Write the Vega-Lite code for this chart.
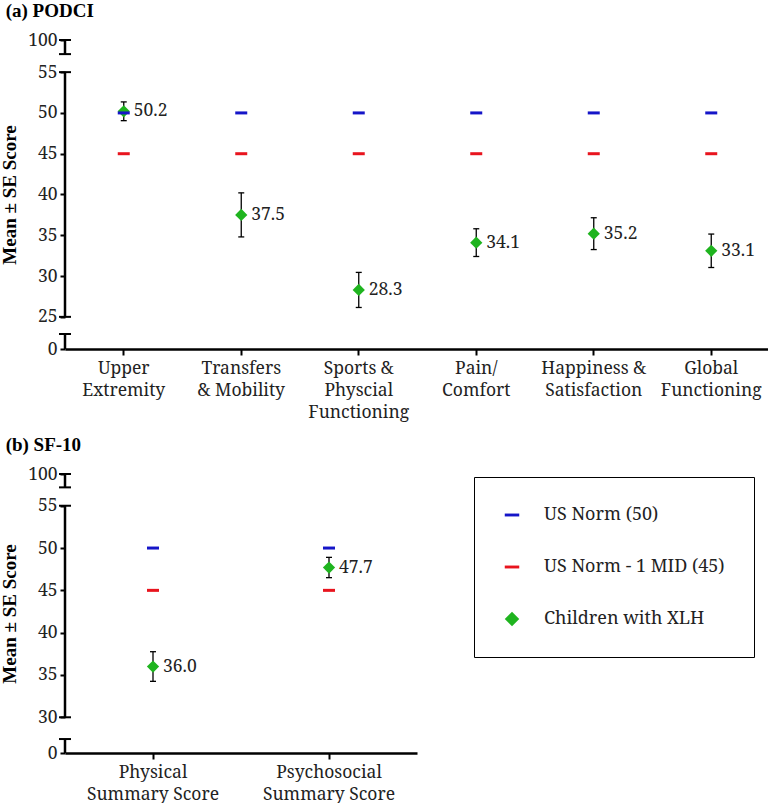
{
  "$schema": "https://vega.github.io/schema/vega-lite/v6.json",
  "padding": {"left": 0, "top": 2, "right": 0, "bottom": 0},
  "background": "white",
  "config": {"view": {"stroke": null}, "tick": {"opacity": 1}},
  "datasets": {
    "podci": [
      {"cat": "Upper Extremity", "series": "Children with XLH", "value": 50.2, "lo": 49.05, "hi": 51.35},
      {"cat": "Transfers & Mobility", "series": "Children with XLH", "value": 37.5, "lo": 34.8, "hi": 40.2},
      {"cat": "Sports & Physcial Functioning", "series": "Children with XLH", "value": 28.3, "lo": 26.15, "hi": 30.45},
      {"cat": "Pain/Comfort", "series": "Children with XLH", "value": 34.1, "lo": 32.4, "hi": 35.8},
      {"cat": "Happiness & Satisfaction", "series": "Children with XLH", "value": 35.2, "lo": 33.25, "hi": 37.15},
      {"cat": "Global Functioning", "series": "Children with XLH", "value": 33.1, "lo": 31.05, "hi": 35.15},
      {"cat": "Upper Extremity", "series": "US Norm (50)", "value": 50},
      {"cat": "Transfers & Mobility", "series": "US Norm (50)", "value": 50},
      {"cat": "Sports & Physcial Functioning", "series": "US Norm (50)", "value": 50},
      {"cat": "Pain/Comfort", "series": "US Norm (50)", "value": 50},
      {"cat": "Happiness & Satisfaction", "series": "US Norm (50)", "value": 50},
      {"cat": "Global Functioning", "series": "US Norm (50)", "value": 50},
      {"cat": "Upper Extremity", "series": "US Norm - 1 MID (45)", "value": 45},
      {"cat": "Transfers & Mobility", "series": "US Norm - 1 MID (45)", "value": 45},
      {"cat": "Sports & Physcial Functioning", "series": "US Norm - 1 MID (45)", "value": 45},
      {"cat": "Pain/Comfort", "series": "US Norm - 1 MID (45)", "value": 45},
      {"cat": "Happiness & Satisfaction", "series": "US Norm - 1 MID (45)", "value": 45},
      {"cat": "Global Functioning", "series": "US Norm - 1 MID (45)", "value": 45}
    ],
    "sf10": [
      {"cat": "Physical Summary Score", "series": "Children with XLH", "value": 36.0, "lo": 34.25, "hi": 37.75},
      {"cat": "Psychosocial Summary Score", "series": "Children with XLH", "value": 47.7, "lo": 46.5, "hi": 48.9},
      {"cat": "Physical Summary Score", "series": "US Norm (50)", "value": 50},
      {"cat": "Psychosocial Summary Score", "series": "US Norm (50)", "value": 50},
      {"cat": "Physical Summary Score", "series": "US Norm - 1 MID (45)", "value": 45},
      {"cat": "Psychosocial Summary Score", "series": "US Norm - 1 MID (45)", "value": 45}
    ]
  },
  "vconcat": [
    {
      "width": 705,
      "height": 309,
      "title": {"text": "(a) PODCI", "anchor": "start", "frame": "bounds", "font": "Liberation Serif", "fontSize": 19, "fontWeight": "bold", "color": "black", "offset": 10, "dx": 5},
      "data": {"name": "podci"},
      "resolve": {"scale": {"x": "independent"}, "axis": {"x": "independent"}},
      "encoding": {
        "y": {
          "field": "value", "type": "quantitative",
          "scale": {"domain": [21.06, 58.94], "nice": false, "zero": false},
          "axis": {
            "title": "Mean ± SE Score", "titleFont": "Liberation Serif", "titleFontSize": 19, "titleFontWeight": "bold", "titleColor": "black", "titlePadding": 8,
            "values": [21.06, 25, 30, 35, 40, 45, 50, 55, 58.94],
            "labelExpr": "datum.value < 24 ? '0' : datum.value > 56 ? '100' : datum.label",
            "domain": false, "grid": false, "tickSize": 5, "tickWidth": 2, "tickColor": "black",
            "labelFont": "Noto Serif", "labelFontSize": 17.5, "labelColor": "#222", "labelPadding": 3
          }
        }
      },
      "layer": [
        {
          "transform": [{"filter": "datum.cat == 'Upper Extremity' && datum.series == 'US Norm (50)'"}],
          "encoding": {"x": {"datum": 0, "type": "quantitative", "scale": {"domain": [0, 1]}, "axis": null}},
          "layer": [
            {"mark": {"type": "rule", "orient": "vertical", "color": "black", "strokeWidth": 2.5}, "encoding": {"y": {"datum": 25}, "y2": {"datum": 55}}},
            {"mark": {"type": "rule", "orient": "vertical", "color": "black", "strokeWidth": 2.5}, "encoding": {"y": {"datum": 57.21}, "y2": {"datum": 58.94}}},
            {"mark": {"type": "rule", "orient": "vertical", "color": "black", "strokeWidth": 2.5}, "encoding": {"y": {"datum": 21.06}, "y2": {"datum": 22.9}}},
            {"mark": {"type": "tick", "orient": "horizontal", "color": "black", "size": 12, "thickness": 2, "opacity": 1}, "encoding": {"y": {"datum": 58.94}}},
            {"mark": {"type": "tick", "orient": "horizontal", "color": "black", "size": 12, "thickness": 2, "opacity": 1}, "encoding": {"y": {"datum": 57.21}}},
            {"mark": {"type": "tick", "orient": "horizontal", "color": "black", "size": 12, "thickness": 2, "opacity": 1}, "encoding": {"y": {"datum": 55}}},
            {"mark": {"type": "tick", "orient": "horizontal", "color": "black", "size": 12, "thickness": 2, "opacity": 1}, "encoding": {"y": {"datum": 22.9}}},
            {"mark": {"type": "tick", "orient": "horizontal", "color": "black", "size": 12, "thickness": 2, "opacity": 1}, "encoding": {"y": {"datum": 25}}}
          ]
        },
        {
          "encoding": {
            "x": {
              "field": "cat", "type": "nominal", "sort": null,
              "scale": {"domain": ["Upper Extremity", "Transfers & Mobility", "Sports & Physcial Functioning", "Pain/Comfort", "Happiness & Satisfaction", "Global Functioning"], "paddingInner": 0, "paddingOuter": 0},
              "axis": {
                "title": null, "labelAngle": 0, "labelFont": "Noto Serif", "labelFontSize": 17.5, "labelColor": "#222", "labelLineHeight": 22, "labelPadding": 4,
                "tickSize": 6, "tickWidth": 2, "tickColor": "black", "domainColor": "black", "domainWidth": 2.5,
                "labelExpr": "datum.value == 'Upper Extremity' ? ['Upper','Extremity'] : datum.value == 'Transfers & Mobility' ? ['Transfers','& Mobility'] : datum.value == 'Sports & Physcial Functioning' ? ['Sports &','Physcial','Functioning'] : datum.value == 'Pain/Comfort' ? ['Pain/','Comfort'] : datum.value == 'Happiness & Satisfaction' ? ['Happiness &','Satisfaction'] : ['Global','Functioning']"
              }
            }
          },
          "layer": [
            {"transform": [{"filter": "datum.series == 'Children with XLH'"}], "mark": {"type": "rule", "color": "black", "strokeWidth": 1.3},
             "encoding": {"y": {"field": "lo", "type": "quantitative"}, "y2": {"field": "hi"}}},
            {"transform": [{"filter": "datum.series == 'Children with XLH'"}], "mark": {"type": "tick", "color": "black", "size": 6, "thickness": 1.3, "orient": "horizontal", "opacity": 1},
             "encoding": {"y": {"field": "lo", "type": "quantitative"}}},
            {"transform": [{"filter": "datum.series == 'Children with XLH'"}], "mark": {"type": "tick", "color": "black", "size": 6, "thickness": 1.3, "orient": "horizontal", "opacity": 1},
             "encoding": {"y": {"field": "hi", "type": "quantitative"}}},
            {"transform": [{"filter": "datum.series == 'Children with XLH'"}], "mark": {"type": "point", "filled": true, "size": 150, "opacity": 1},
             "encoding": {
               "color": {"field": "series", "type": "nominal", "scale": {"domain": ["US Norm (50)", "US Norm - 1 MID (45)", "Children with XLH"], "range": ["#1515c8", "#e8141e", "#1fb41f"]},
                 "legend": {"title": null, "orient": "none", "legendX": 409, "legendY": 437, "direction": "vertical", "padding": 29, "rowPadding": 34, "labelOffset": 23, "labelFont": "Noto Serif", "labelFontSize": 18, "labelColor": "#222", "labelLimit": 400, "strokeColor": "black", "symbolSize": 210}},
               "shape": {"field": "series", "type": "nominal", "scale": {"domain": ["US Norm (50)", "US Norm - 1 MID (45)", "Children with XLH"], "range": ["M-1,-0.2L1,-0.2L1,0.2L-1,0.2Z", "M-1,-0.2L1,-0.2L1,0.2L-1,0.2Z", "diamond"]},
                 "legend": {"title": null, "orient": "none", "legendX": 409, "legendY": 437, "direction": "vertical", "padding": 29, "rowPadding": 34, "labelOffset": 23, "labelFont": "Noto Serif", "labelFontSize": 18, "labelColor": "#222", "labelLimit": 400, "strokeColor": "black", "symbolSize": 210}}
             }},
            {"transform": [{"filter": "datum.series != 'Children with XLH'"}], "mark": {"type": "tick", "size": 12, "thickness": 3, "orient": "horizontal", "opacity": 1},
             "encoding": {"color": {"field": "series", "type": "nominal"}}},
            {"transform": [{"filter": "datum.series == 'Children with XLH'"}], "mark": {"type": "text", "align": "left", "baseline": "middle", "dx": 10, "font": "Noto Serif", "fontSize": 17.5, "color": "#222"},
             "encoding": {"text": {"field": "value", "type": "quantitative", "format": ".1f"}}}
          ]
        }
      ]
    },
    {
      "width": 352,
      "height": 279,
      "title": {"text": "(b) SF-10", "anchor": "start", "frame": "bounds", "font": "Liberation Serif", "fontSize": 19, "fontWeight": "bold", "color": "black", "offset": 10, "dx": 5},
      "data": {"name": "sf10"},
      "resolve": {"scale": {"x": "independent"}, "axis": {"x": "independent"}},
      "encoding": {
        "y": {
          "field": "value", "type": "quantitative",
          "scale": {"domain": [25.78, 58.75], "nice": false, "zero": false},
          "axis": {
            "title": "Mean ± SE Score", "titleFont": "Liberation Serif", "titleFontSize": 19, "titleFontWeight": "bold", "titleColor": "black", "titlePadding": 8,
            "values": [25.78, 30, 35, 40, 45, 50, 55, 58.75],
            "labelExpr": "datum.value < 28 ? '0' : datum.value > 56 ? '100' : datum.label",
            "domain": false, "grid": false, "tickSize": 5, "tickWidth": 2, "tickColor": "black",
            "labelFont": "Noto Serif", "labelFontSize": 17.5, "labelColor": "#222", "labelPadding": 3
          }
        }
      },
      "layer": [
        {
          "transform": [{"filter": "datum.cat == 'Physical Summary Score' && datum.series == 'US Norm (50)'"}],
          "encoding": {"x": {"datum": 0, "type": "quantitative", "scale": {"domain": [0, 1]}, "axis": null}},
          "layer": [
            {"mark": {"type": "rule", "orient": "vertical", "color": "black", "strokeWidth": 2.5}, "encoding": {"y": {"datum": 30}, "y2": {"datum": 55}}},
            {"mark": {"type": "rule", "orient": "vertical", "color": "black", "strokeWidth": 2.5}, "encoding": {"y": {"datum": 57.17}, "y2": {"datum": 58.75}}},
            {"mark": {"type": "rule", "orient": "vertical", "color": "black", "strokeWidth": 2.5}, "encoding": {"y": {"datum": 25.78}, "y2": {"datum": 27.43}}},
            {"mark": {"type": "tick", "orient": "horizontal", "color": "black", "size": 12, "thickness": 2, "opacity": 1}, "encoding": {"y": {"datum": 58.75}}},
            {"mark": {"type": "tick", "orient": "horizontal", "color": "black", "size": 12, "thickness": 2, "opacity": 1}, "encoding": {"y": {"datum": 57.17}}},
            {"mark": {"type": "tick", "orient": "horizontal", "color": "black", "size": 12, "thickness": 2, "opacity": 1}, "encoding": {"y": {"datum": 55}}},
            {"mark": {"type": "tick", "orient": "horizontal", "color": "black", "size": 12, "thickness": 2, "opacity": 1}, "encoding": {"y": {"datum": 27.43}}},
            {"mark": {"type": "tick", "orient": "horizontal", "color": "black", "size": 12, "thickness": 2, "opacity": 1}, "encoding": {"y": {"datum": 30}}}
          ]
        },
        {
          "encoding": {
            "x": {
              "field": "cat", "type": "nominal", "sort": null,
              "scale": {"domain": ["Physical Summary Score", "Psychosocial Summary Score"], "paddingInner": 0, "paddingOuter": 0},
              "axis": {
                "title": null, "labelAngle": 0, "labelFont": "Noto Serif", "labelFontSize": 17.5, "labelColor": "#222", "labelLineHeight": 22, "labelPadding": 4,
                "tickSize": 6, "tickWidth": 2, "tickColor": "black", "domainColor": "black", "domainWidth": 2.5,
                "labelExpr": "datum.value == 'Physical Summary Score' ? ['Physical','Summary Score'] : ['Psychosocial','Summary Score']"
              }
            }
          },
          "layer": [
            {"transform": [{"filter": "datum.series == 'Children with XLH'"}], "mark": {"type": "rule", "color": "black", "strokeWidth": 1.3},
             "encoding": {"y": {"field": "lo", "type": "quantitative"}, "y2": {"field": "hi"}}},
            {"transform": [{"filter": "datum.series == 'Children with XLH'"}], "mark": {"type": "tick", "color": "black", "size": 6, "thickness": 1.3, "orient": "horizontal", "opacity": 1},
             "encoding": {"y": {"field": "lo", "type": "quantitative"}}},
            {"transform": [{"filter": "datum.series == 'Children with XLH'"}], "mark": {"type": "tick", "color": "black", "size": 6, "thickness": 1.3, "orient": "horizontal", "opacity": 1},
             "encoding": {"y": {"field": "hi", "type": "quantitative"}}},
            {"transform": [{"filter": "datum.series == 'Children with XLH'"}], "mark": {"type": "point", "filled": true, "size": 150, "opacity": 1},
             "encoding": {
               "color": {"field": "series", "type": "nominal"},
               "shape": {"field": "series", "type": "nominal"}
             }},
            {"transform": [{"filter": "datum.series != 'Children with XLH'"}], "mark": {"type": "tick", "size": 12, "thickness": 3, "orient": "horizontal", "opacity": 1},
             "encoding": {"color": {"field": "series", "type": "nominal"}}},
            {"transform": [{"filter": "datum.series == 'Children with XLH'"}], "mark": {"type": "text", "align": "left", "baseline": "middle", "dx": 10, "font": "Noto Serif", "fontSize": 17.5, "color": "#222"},
             "encoding": {"text": {"field": "value", "type": "quantitative", "format": ".1f"}}}
          ]
        }
      ]
    }
  ],
  "spacing": 15
}
